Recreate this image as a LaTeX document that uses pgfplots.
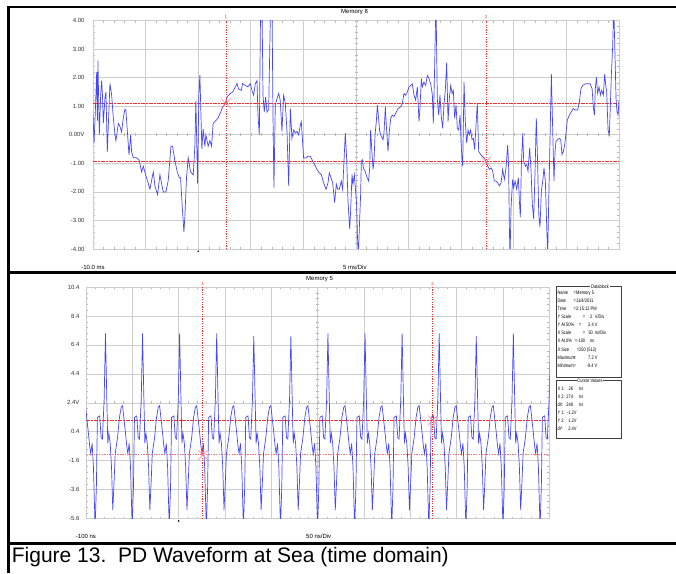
\documentclass[border=0pt]{standalone}
\usepackage{pgfplots}
\pgfplotsset{compat=1.18}
\usepackage{fontspec}
\usepackage{graphicx}
\setmainfont{Liberation Sans}

\definecolor{trace}{RGB}{70,70,250}
\definecolor{gridc}{RGB}{205,205,205}
\definecolor{cur}{RGB}{255,40,40}
\definecolor{curl}{RGB}{255,110,110}
\definecolor{xm}{RGB}{250,130,130}

\newcommand{\tf}{\fontsize{6}{7}\selectfont}
\newcommand{\df}{\fontsize{5}{6}\selectfont}
\newcommand{\sq}[1]{\scalebox{0.8}[1]{#1}}

\pgfplotsset{scope/.style={
    scale only axis, anchor=south west,
    grid=major, major grid style={gridc, line width=0.7pt},
    axis line style={gridc, line width=0.7pt},
    xticklabels={},
    minor x tick num=4, minor y tick num=4,
    tick align=inside, major tick length=0pt, minor tick length=2.2pt,
    minor tick style={gray!55, line width=0.4pt},
    tick label style={font=\tf, text=black!80},
    yticklabel style={anchor=east},
  },
  vcur/.style={draw=cur, line width=0.8pt, dash pattern=on 1.2pt off 1.2pt},
  hcur/.style={draw=cur, line width=1pt, dash pattern=on 3.5pt off 1.5pt on 1.5pt off 1.5pt},
}

\begin{document}
\begin{tikzpicture}[x=1pt,y=1pt]

% ---------- upper screen: Memory 8 ----------
\begin{axis}[scope, at={(93pt,324pt)}, width=526pt, height=228.3pt,
    xmin=-10, xmax=40, ymin=-4, ymax=4,
    xtick={-10,-5,...,40}, ytick={-4,-3,...,4},
    yticklabels={-4.00,-3.00,-2.00,-1.00,0.00V,1.00,2.00,3.00,4.00},
    yticklabel style={xshift=-5pt}]
\pgfplotsinvokeforeach{-9,...,39}{\draw[gray!55, line width=0.4pt] ([yshift=-1.5pt]axis cs:#1,0) -- ([yshift=1.5pt]axis cs:#1,0);}
\pgfplotsinvokeforeach{-3.8,-3.6,...,3.9}{\draw[gray!55, line width=0.4pt] ([xshift=-1.5pt]axis cs:15,#1) -- ([xshift=1.5pt]axis cs:15,#1);}
\addplot[hcur] coordinates {(-10,1.1) (40,1.1)};
\addplot[hcur] coordinates {(-10,-0.94) (40,-0.94)};
\addplot[trace, line width=0.7pt] coordinates {
(-10.00,0.75) (-9.90,-0.3) (-9.78,0.8) (-9.65,2.2) (-9.58,0.5) (-9.53,2.6) (-9.45,1.0) (-9.40,0.0)
(-9.27,1.4) (-9.18,1.9) (-9.10,1.4) (-9.02,0.4) (-8.86,1.3) (-8.77,1.5) (-8.64,-0.6) (-8.39,1.8)
(-8.23,1.4) (-8.07,0.6) (-7.91,0.0) (-7.82,-0.2) (-7.59,0.4) (-7.44,0.3) (-7.28,0.1) (-7.12,0.6)
(-6.96,0.9) (-6.87,0.85) (-6.71,0.0) (-6.58,-0.7) (-6.42,0.0) (-6.33,-0.6) (-6.17,-0.8) (-5.85,-0.8)
(-5.60,-0.9) (-5.38,-1.3) (-5.22,-1.1) (-5.00,-1.4) (-4.75,-1.7) (-4.59,-1.9) (-4.27,-1.3) (-4.11,-1.8)
(-3.86,-2.1) (-3.64,-1.4) (-3.32,-2.0) (-3.07,-2.0) (-2.85,-1.6) (-2.59,-0.4) (-2.44,-0.4) (-2.22,-0.9)
(-1.99,-1.3) (-1.80,-1.5) (-1.68,-1.5) (-1.52,-2.5) (-1.36,-3.4) (-1.27,-2.9) (-1.11,-1.5) (-0.95,-0.8)
(-0.73,-1.3) (-0.47,-1.4) (-0.32,-0.4) (-0.22,1.2) (-0.06,-1.7) (0.06,1.4) (0.16,2.1) (0.35,-0.5)
(0.47,0.2) (0.63,-0.4) (0.73,0.0) (0.95,-0.4) (1.11,-0.2) (1.27,-0.4) (1.42,0.4) (1.68,0.5)
(1.90,0.6) (2.37,1.0) (2.58,1.1) (2.74,1.33) (2.89,1.39) (3.05,1.45) (3.27,1.5) (3.53,1.68)
(3.69,1.8) (3.84,1.6) (4.10,1.56) (4.22,1.8) (4.48,1.73) (4.73,1.68) (4.95,1.8) (5.11,1.56)
(5.27,1.39) (5.43,1.8) (5.59,1.9) (5.68,0.7) (5.81,0.0) (5.94,4.8) (6.06,4.8) (6.16,1.39)
(6.28,0.8) (6.41,1.33) (6.54,0.8) (6.70,0.9) (6.89,4.8) (7.01,4.8) (7.11,0.7) (7.20,-1.85)
(7.33,1.04) (7.49,1.27) (7.65,1.45) (7.80,1.21) (7.96,0.12) (8.12,1.39) (8.28,1.1) (8.44,0.12)
(8.60,-1.79) (8.76,0.92) (8.91,-0.12) (9.07,0.17) (9.23,0.06) (9.39,0.12) (9.55,0.0) (9.71,0.35)
(9.80,0.46) (9.93,-0.29) (10.02,-0.81) (10.24,-0.81) (10.43,-0.75) (10.66,-0.75) (10.88,-0.92) (11.07,-1.04)
(11.29,-1.21) (11.51,-1.33) (11.70,-1.39) (11.92,-1.68) (12.15,-1.91) (12.34,-1.68) (12.46,-1.33) (12.62,-1.5)
(12.78,-1.68) (12.97,-2.37) (13.13,-1.73) (13.26,-1.91) (13.41,-1.91) (13.60,-1.62) (13.73,-1.91) (13.86,-0.92)
(13.98,0.06) (14.11,-0.81) (14.24,-2.31) (14.40,-3.3) (14.49,-2.66) (14.62,-1.39) (14.71,-1.73) (14.84,-1.39)
(15.06,-2.43) (15.13,-3.47) (15.22,-4.3) (15.32,-3.24) (15.44,-2.08) (15.51,-0.92) (15.60,-0.87) (15.70,-1.16)
(15.86,-1.27) (16.01,-1.45) (16.20,-1.62) (16.30,-1.16) (16.39,0.17) (16.49,-0.46) (16.62,-1.21) (16.71,-0.92)
(16.81,0.0) (16.93,0.46) (17.03,1.04) (17.12,0.69) (17.25,0.12) (17.41,-0.06) (17.57,-0.17) (17.66,0.06)
(17.79,0.98) (17.88,0.35) (18.04,-0.58) (18.17,0.12) (18.30,0.58) (18.45,0.69) (18.61,0.64) (18.77,0.75)
(18.99,0.92) (19.25,0.98) (19.40,1.1) (19.56,1.45) (19.72,1.39) (19.88,1.5) (20.04,1.68) (20.20,1.73)
(20.35,1.79) (20.51,1.39) (20.67,1.21) (20.83,1.68) (20.99,0.46) (21.08,0.92) (21.21,1.97) (21.31,1.68)
(21.46,1.85) (21.62,1.73) (21.78,2.08) (21.94,1.97) (22.10,1.79) (22.26,1.39) (22.35,0.4) (22.48,2.43)
(22.60,4.8) (22.73,1.27) (22.86,0.69) (22.98,1.39) (23.11,0.64) (23.24,0.23) (23.36,1.04) (23.49,1.56)
(23.62,2.54) (23.75,0.46) (23.87,1.27) (24.00,1.73) (24.13,1.45) (24.25,1.56) (24.38,0.58) (24.51,1.04)
(24.63,0.23) (24.76,0.17) (24.89,0.69) (25.01,-0.46) (25.14,-1.1) (25.27,1.85) (25.39,0.46) (25.52,-0.29)
(25.65,0.17) (25.77,0.0) (25.90,0.17) (26.03,-0.17) (26.15,-0.12) (26.28,-0.52) (26.41,0.35) (26.53,1.1)
(26.66,-0.58) (26.85,-0.69) (27.17,-0.81) (27.36,-0.92) (27.52,-1.1) (27.68,-1.21) (27.84,-1.16) (27.99,-1.27)
(28.15,-1.62) (28.31,-1.62) (28.47,-1.68) (28.63,-1.79) (28.79,-1.68) (28.94,-1.21) (29.10,-1.56) (29.26,-1.16)
(29.42,-0.35) (29.51,-1.16) (29.58,-3.24) (29.64,-4.3) (29.74,-2.54) (29.89,-1.56) (29.99,-1.85) (30.12,-1.62)
(30.28,-1.91) (30.43,-1.5) (30.53,-2.31) (30.62,-2.89) (30.72,-1.04) (30.85,0.06) (30.94,-0.92) (31.10,-1.1)
(31.23,-1.04) (31.35,-1.27) (31.51,-0.46) (31.64,-1.27) (31.76,-2.43) (31.89,-2.95) (32.02,-1.27) (32.14,0.58)
(32.27,-1.04) (32.37,-2.77) (32.49,-3.24) (32.62,-1.97) (32.75,-1.62) (32.87,-1.16) (33.00,-1.62) (33.13,-3.24)
(33.22,-4.2) (33.32,-2.31) (33.44,-0.23) (33.57,2.14) (33.70,0.12) (33.82,-1.62) (33.92,-0.58) (34.01,-0.23)
(34.17,-0.17) (34.33,-0.12) (34.46,-0.17) (34.58,-0.69) (34.71,-0.58) (34.84,-0.35) (34.96,0.06) (35.09,0.52)
(35.28,0.69) (35.47,0.81) (35.66,0.92) (35.85,0.87) (36.07,0.87) (36.23,1.16) (36.39,1.62) (36.55,1.73)
(36.80,1.79) (37.02,1.79) (37.25,1.79) (37.44,1.62) (37.56,0.98) (37.66,0.69) (37.75,1.62) (37.85,2.02)
(37.97,1.45) (38.10,1.68) (38.23,1.39) (38.35,1.56) (38.51,1.39) (38.64,2.14) (38.74,1.73) (38.83,1.5)
(38.96,0.17) (39.08,0.0) (39.18,1.04) (39.27,2.08) (39.40,3.12) (39.50,4.5) (39.59,3.24) (39.72,1.27)
(39.81,0.81) (39.91,0.69) (40.00,1.2)
};
\addplot[vcur] coordinates {(2.64,-4) (2.64,4)};
\addplot[vcur] coordinates {(27.36,-4) (27.36,4)};
\addplot[xm, only marks, mark=x, mark size=7pt, mark options={line width=0.5pt}] coordinates {(2.64,1.1) (27.36,-0.94)};
\coordinate (ca1) at (axis cs:2.64,4);
\coordinate (ca2) at (axis cs:27.36,4);
\coordinate (trA) at (axis cs:0,-4);
\end{axis}

% ---------- lower screen: Memory 5 ----------
\begin{axis}[scope, at={(86pt,54.3pt)}, width=463.5pt, height=231.7pt,
    xmin=-100, xmax=400, ymin=-5.6, ymax=10.4,
    xtick={-100,-50,...,400}, ytick={-5.6,-3.6,-1.6,0.4,2.4,4.4,6.4,8.4,10.4},
    yticklabels={-5.6,-3.6,-1.6,0.4,2.4V,4.4,6.4,8.4,10.4},
    yticklabel style={xshift=-3pt}]
\pgfplotsinvokeforeach{-90,-80,...,390}{\draw[gray!55, line width=0.4pt] ([yshift=-1.5pt]axis cs:#1,2.4) -- ([yshift=1.5pt]axis cs:#1,2.4);}
\pgfplotsinvokeforeach{-5.2,-4.8,...,10.1}{\draw[gray!55, line width=0.4pt] ([xshift=-1.5pt]axis cs:150,#1) -- ([xshift=1.5pt]axis cs:150,#1);}
\addplot[hcur] coordinates {(-100,1.2) (400,1.2)};
\addplot[draw=curl, line width=1pt, dash pattern=on 1.3pt off 1.3pt] coordinates {(-100,-1.2) (400,-1.2)};
\addplot[trace, line width=0.7pt] coordinates {
(-100.6,2.2) (-97.7,0.5) (-96.0,-0.6) (-94.9,-1.1) (-93.4,-0.4) (-92.0,-2.0) (-90.2,-6.2) (-88.8,-3.4) (-87.7,1.4) (-85.2,1.5) (-83.7,0.0) (-82.3,-0.1) (-80.4,2.7)
(-79.0,7.2) (-77.6,2.8) (-76.5,-0.4) (-75.4,0.3) (-73.9,-0.4) (-72.5,-2.0) (-71.1,-5.0) (-69.6,-2.9) (-68.5,-1.1) (-66.0,0.0) (-63.9,1.4) (-62.0,2.1) (-60.6,2.2) (-57.7,0.5) (-56.0,-0.6) (-54.9,-1.1) (-53.4,-0.4) (-52.0,-2.0) (-50.2,-6.2) (-48.8,-3.4) (-47.7,1.4) (-45.2,1.5) (-43.7,0.0) (-42.3,-0.1) (-40.4,2.7)
(-39.0,7.2) (-37.6,2.8) (-36.5,-0.4) (-35.4,0.3) (-33.9,-0.4) (-32.5,-2.0) (-31.1,-5.0) (-29.6,-2.9) (-28.5,-1.1) (-26.0,0.0) (-23.9,1.4) (-22.0,2.1) (-20.6,2.2) (-17.7,0.5) (-16.0,-0.6) (-14.9,-1.1) (-13.4,-0.4) (-12.0,-2.0) (-10.2,-6.2) (-8.8,-3.4) (-7.7,1.4) (-5.2,1.5) (-3.7,0.0) (-2.3,-0.1) (-0.4,2.7)
(1.0,7.2) (2.4,2.8) (3.5,-0.4) (4.6,0.3) (6.1,-0.4) (7.5,-2.0) (8.9,-5.0) (10.4,-2.9) (11.5,-1.1) (14.0,0.0) (16.1,1.4) (18.0,2.1) (19.4,2.2) (22.3,0.5) (24.0,-0.6) (25.1,-1.1) (26.6,-0.4) (28.0,-2.0) (29.8,-6.2) (31.2,-3.4) (32.3,1.4) (34.8,1.5) (36.3,0.0) (37.7,-0.1) (39.6,2.7)
(41.0,7.2) (42.4,2.8) (43.5,-0.4) (44.6,0.3) (46.1,-0.4) (47.5,-2.0) (48.9,-5.0) (50.4,-2.9) (51.5,-1.1) (54.0,0.0) (56.1,1.4) (58.0,2.1) (59.4,2.2) (62.3,0.5) (64.0,-0.6) (65.1,-1.1) (66.6,-0.4) (68.0,-2.0) (69.8,-6.2) (71.2,-3.4) (72.3,1.4) (74.8,1.5) (76.3,0.0) (77.7,-0.1) (79.6,2.7)
(81.0,7.0) (82.4,2.8) (83.5,-0.4) (84.6,0.3) (86.1,-0.4) (87.5,-2.0) (88.9,-5.0) (90.4,-2.9) (91.5,-1.1) (94.0,0.0) (96.1,1.4) (98.0,2.1) (99.4,2.2) (102.3,0.5) (104.0,-0.6) (105.1,-1.1) (106.6,-0.4) (108.0,-2.0) (109.8,-6.2) (111.2,-3.4) (112.3,1.4) (114.8,1.5) (116.3,0.0) (117.7,-0.1) (119.6,2.7)
(121.0,7.0) (122.4,2.8) (123.5,-0.4) (124.6,0.3) (126.1,-0.4) (127.5,-2.0) (128.9,-5.0) (130.4,-2.9) (131.5,-1.1) (134.0,0.0) (136.1,1.4) (138.0,2.1) (139.4,2.2) (142.3,0.5) (144.0,-0.6) (145.1,-1.1) (146.6,-0.4) (148.0,-2.0) (149.8,-6.2) (151.2,-3.4) (152.3,1.4) (154.8,1.5) (156.3,0.0) (157.7,-0.1) (159.6,2.7)
(161.0,7.2) (162.4,2.8) (163.5,-0.4) (164.6,0.3) (166.1,-0.4) (167.5,-2.0) (168.9,-5.0) (170.4,-2.9) (171.5,-1.1) (174.0,0.0) (176.1,1.4) (178.0,2.1) (179.4,2.2) (182.3,0.5) (184.0,-0.6) (185.1,-1.1) (186.6,-0.4) (188.0,-2.0) (189.8,-6.2) (191.2,-3.4) (192.3,1.4) (194.8,1.5) (196.3,0.0) (197.7,-0.1) (199.6,2.7)
(201.0,7.2) (202.4,2.8) (203.5,-0.4) (204.6,0.3) (206.1,-0.4) (207.5,-2.0) (208.9,-5.0) (210.4,-2.9) (211.5,-1.1) (214.0,0.0) (216.1,1.4) (218.0,2.1) (219.4,2.2) (222.3,0.5) (224.0,-0.6) (225.1,-1.1) (226.6,-0.4) (228.0,-2.0) (229.8,-6.2) (231.2,-3.4) (232.3,1.4) (234.8,1.5) (236.3,0.0) (237.7,-0.1) (239.6,2.7)
(241.0,7.2) (242.4,2.8) (243.5,-0.4) (244.6,0.3) (246.1,-0.4) (247.5,-2.0) (248.9,-5.0) (250.4,-2.9) (251.5,-1.1) (254.0,0.0) (256.1,1.4) (258.0,2.1) (259.4,2.2) (262.3,0.5) (264.0,-0.6) (265.1,-1.1) (266.6,-0.4) (268.0,-2.0) (269.8,-6.2) (271.2,-3.4) (272.3,1.4) (274.8,1.5) (276.3,0.0) (277.7,-0.1) (279.6,2.7)
(281.0,7.2) (282.4,2.8) (283.5,-0.4) (284.6,0.3) (286.1,-0.4) (287.5,-2.0) (288.9,-5.0) (290.4,-2.9) (291.5,-1.1) (294.0,0.0) (296.1,1.4) (298.0,2.1) (299.4,2.2) (302.3,0.5) (304.0,-0.6) (305.1,-1.1) (306.6,-0.4) (308.0,-2.0) (309.8,-6.2) (311.2,-3.4) (312.3,1.4) (314.8,1.5) (316.3,0.0) (317.7,-0.1) (319.6,2.7)
(321.0,7.0) (322.4,2.8) (323.5,-0.4) (324.6,0.3) (326.1,-0.4) (327.5,-2.0) (328.9,-5.0) (330.4,-2.9) (331.5,-1.1) (334.0,0.0) (336.1,1.4) (338.0,2.1) (339.4,2.2) (342.3,0.5) (344.0,-0.6) (345.1,-1.1) (346.6,-0.4) (348.0,-2.0) (349.8,-6.2) (351.2,-3.4) (352.3,1.4) (354.8,1.5) (356.3,0.0) (357.7,-0.1) (359.6,2.7)
(361.0,7.2) (362.4,2.8) (363.5,-0.4) (364.6,0.3) (366.1,-0.4) (367.5,-2.0) (368.9,-5.0) (370.4,-2.9) (371.5,-1.1) (374.0,0.0) (376.1,1.4) (378.0,2.1) (379.4,2.2) (382.3,0.5) (384.0,-0.6) (385.1,-1.1) (386.6,-0.4) (388.0,-2.0) (389.8,-6.2) (391.2,-3.4) (392.3,1.4) (394.8,1.5) (396.3,0.0) (397.7,-0.1) (399.6,2.7) (401.0,7.2)
};
\addplot[vcur] coordinates {(26,-5.6) (26,10.4)};
\addplot[vcur] coordinates {(274,-5.6) (274,10.4)};
\addplot[xm, only marks, mark=x, mark size=6.5pt, mark options={line width=0.5pt}] coordinates {(26,-1.2) (274,1.2)};
\coordinate (cb1) at (axis cs:26,10.4);
\coordinate (cb2) at (axis cs:274,10.4);
\coordinate (trB) at (axis cs:0,-5.6);
\end{axis}

% cursor numbers and trigger marks
\foreach \c/\t in {ca1/1,ca2/2,cb1/1,cb2/2}
  \node[cur, font=\fontsize{4.5}{5}\selectfont, inner sep=0pt, anchor=south] at ([yshift=1.5pt]\c) {\t};
\fill (trA) ++(0,-2.2) circle (0.9);
\fill (trB) ++(0,-2.2) circle (0.9);

% screen annotations
\node[font=\tf, anchor=west, inner sep=0pt] at (341,561) {Memory 8};
\node[font=\tf, anchor=center, inner sep=0pt] at (93,306) {-10.0 ms};
\node[font=\tf, anchor=west, inner sep=0pt] at (343,306) {5 ms/Div};
\node[font=\tf, anchor=west, inner sep=0pt] at (306,294) {Memory 5};
\node[font=\tf, anchor=center, inner sep=0pt] at (86,37) {-100 ns};
\node[font=\tf, anchor=west, inner sep=0pt] at (306,37) {50 ns/Div};

% datablock
\draw[black!75, line width=0.5pt] (556,286.7) rectangle (621.3,196);
\node[font=\df, fill=white, inner sep=0.8pt] at (600,286.7) {\sq{Datablock}};
\foreach \y/\l/\ex/\e/\vx/\v in {
    278/Name/573.3/=/576/Memory 5,
    270/Date/573.3/=/576/11\slash 4\slash 2011,
    262/Time/573.3/=/576/2:15:12 PM,
    254/Y Scale/582.7/=/590/2\hspace{3pt}V\slash Div,
    246/Y At 50\%/578.7/=/588/2.4 V,
    238/X Scale/582.7/=/588.3/50\hspace{2.5pt}ns\slash Div,
    230/X At 0\%/574.7/=/577/-100\hspace{6pt}ns,
    222/X Size/576.7/=/579/250 (512),
    214/Maximum/573.3/=/588/7.2 V,
    206/Minimum/573.3/=/586.5/-9.4 V}{
  \node[font=\df, anchor=base west, inner sep=0pt] at (557.3,\y) {\sq{\l}};
  \node[font=\df, anchor=base west, inner sep=0pt] at (\ex,\y) {\sq{\e}};
  \node[font=\df, anchor=base west, inner sep=0pt] at (\vx,\y) {\sq{\v}};
}
\draw[black!75, line width=0.5pt] (556,192.3) rectangle (621.3,135);
\node[font=\df, fill=white, inner sep=0.8pt] at (590,192.3) {\sq{Cursor Values}};
\foreach \y/\l/\v/\u in {183/X 1:/26/ns, 175/X 2:/274/ns, 167/dX:/248/ns}{
  \node[font=\df, anchor=base west, inner sep=0pt] at (557.3,\y) {\sq{\l}};
  \node[font=\df, anchor=base east, inner sep=0pt] at (573.3,\y) {\sq{\v}};
  \node[font=\df, anchor=base west, inner sep=0pt] at (579,\y) {\sq{\u}};
}
\foreach \y/\l/\v in {159/Y 1:/-1.2V, 151/Y 2:/1.2V, 143/dY:/2.4V}{
  \node[font=\df, anchor=base west, inner sep=0pt] at (557.3,\y) {\sq{\l}};
  \node[font=\df, anchor=base east, inner sep=0pt] at (576.7,\y) {\sq{\v}};
}

% frame lines
\draw[line width=2.2pt] (7,566.3) -- (676,566.3);
\draw[line width=2.4pt] (8.5,0) -- (8.5,567.4);
\draw[line width=2.6pt] (7,300.3) -- (676,300.3);
\draw[line width=2.4pt] (7,29.7) -- (676,29.7);

% caption
\node[anchor=base west, inner sep=0pt, font=\fontsize{21}{24}\selectfont] at (11.7,10.5)
  {Figure 13.\ \ PD Waveform at Sea (time domain)};

\pgfresetboundingbox
\path[use as bounding box] (0,0) rectangle (676,573);
\end{tikzpicture}
\end{document}
